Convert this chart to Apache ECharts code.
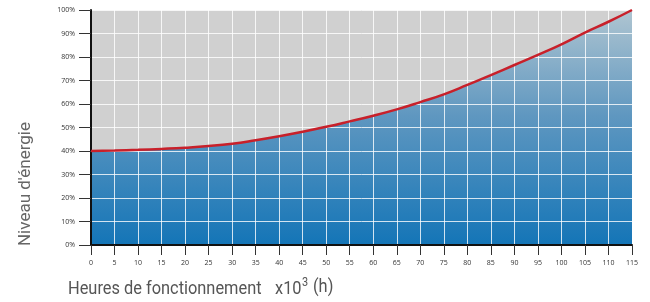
<!DOCTYPE html>
<html>
<head>
<meta charset="utf-8">
<script src="https://cdn.jsdelivr.net/npm/echarts@6/dist/echarts.min.js"></script>
<style>
html,body{margin:0;padding:0;background:#fff;}
#c{width:650px;height:302px;}
</style>
</head>
<body>
<div id="c"></div>
<script>
// Data
const hours = [0,5,10,15,20,25,30,35,40,45,50,55,60,65,70,75,80,85,90,95,100,105,110,115];
const energy = [40,40.2,40.5,40.9,41.4,42.1,43.1,44.6,46.3,48.2,50.3,52.6,55,57.7,60.8,64.1,68.1,72.3,76.6,80.9,85.4,90.4,95,100];
const xTitle = 'Heures de fonctionnement';
const xUnit = 'x10';
const xSup = '3';
const xUnitEnd = '(h)';
const yTitle = "Niveau d'énergie";

const points = hours.map((h, i) => [h, energy[i]]);
const chart = echarts.init(document.getElementById('c'), null, {renderer: 'canvas'});
const tickFont = {fontFamily: 'Open Sans', fontSize: 7, color: '#333'};
const titleStyle = (text, size, x, y) => ({
  type: 'text', x: x, y: y, scaleX: 0.91,
  style: {text: text, font: size + 'px Roboto', fill: '#555', verticalAlign: 'top'}
});
chart.setOption({
  animation: false,
  grid: {left: 91, right: 18, top: 10, bottom: 57, show: true, backgroundColor: '#d0d0d0', borderWidth: 0},
  xAxis: {
    type: 'value', min: 0, max: 115, interval: 5, z: 3,
    axisLine: {show: true, onZero: false, lineStyle: {color: '#111', width: 2}},
    axisTick: {show: true, length: 10, lineStyle: {color: '#333', width: 1}},
    axisLabel: Object.assign({margin: 14}, tickFont),
    splitLine: {show: true, lineStyle: {color: 'rgba(255,255,255,0.8)', width: 1}}
  },
  yAxis: {
    type: 'value', min: 0, max: 100, interval: 10, z: 3,
    axisLine: {show: true, lineStyle: {color: '#111', width: 2}},
    axisTick: {show: true, length: 12, lineStyle: {color: '#333', width: 1}},
    axisLabel: Object.assign({margin: 16, formatter: '{value}%'}, tickFont),
    splitLine: {show: true, lineStyle: {color: 'rgba(255,255,255,0.8)', width: 1}}
  },
  series: [
    {
      type: 'line', data: points, smooth: true, symbol: 'none', z: 1,
      lineStyle: {width: 0},
      areaStyle: {
        opacity: 1,
        color: new echarts.graphic.LinearGradient(0, 0, 0, 1, [
          {offset: 0, color: '#afc5d1'},
          {offset: 0.45, color: '#5f97c0'},
          {offset: 1, color: '#1475b7'}
        ])
      }
    },
    {
      type: 'line', data: points, smooth: true, symbol: 'none', z: 5,
      lineStyle: {width: 2.5, color: '#c8202a'}
    }
  ],
  graphic: [
    titleStyle(xTitle, 18, 68, 280),
    titleStyle(xUnit, 18, 275, 280),
    titleStyle(xSup, 12, 302, 277),
    titleStyle(xUnitEnd, 18, 313, 278),
    {type: 'text', x: 26, y: 184, rotation: Math.PI / 2,
     style: {text: yTitle, font: '17px Roboto', fill: '#666', align: 'center', verticalAlign: 'middle'}}
  ]
});
</script>
</body>
</html>
